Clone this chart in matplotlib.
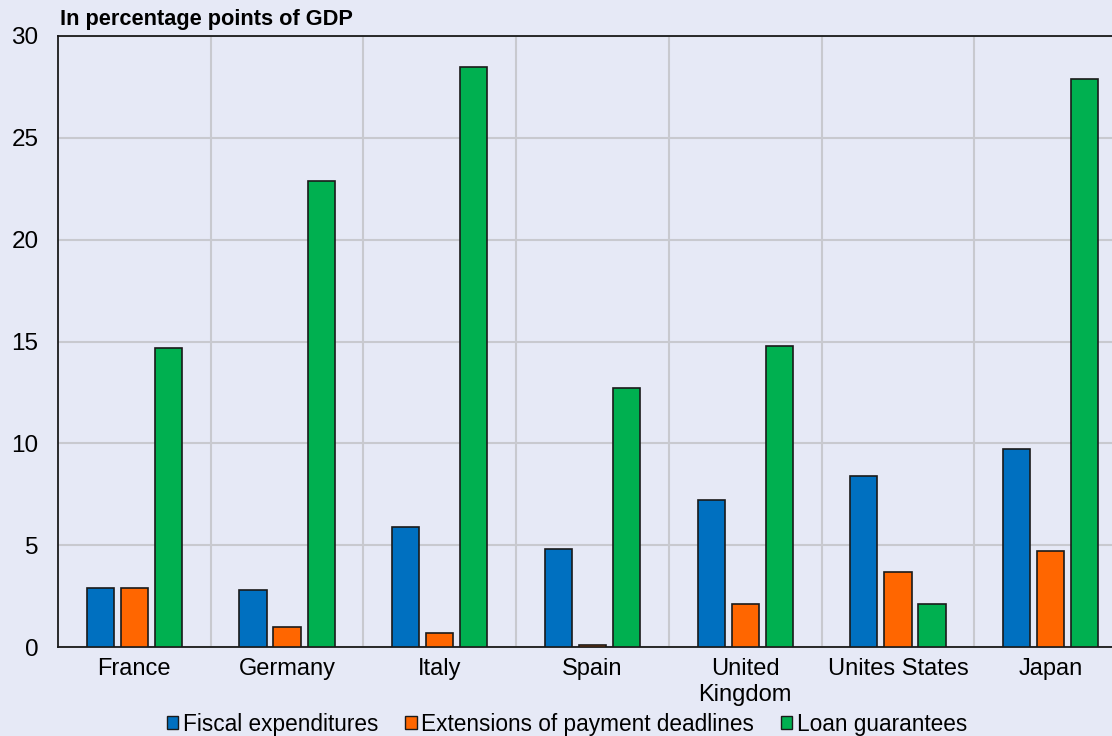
import matplotlib
matplotlib.use("Agg")
import matplotlib.pyplot as plt
import numpy as np
from matplotlib.patches import Patch

plt.rcParams['font.family'] = ['Liberation Sans', 'DejaVu Sans']

countries = ["France", "Germany", "Italy", "Spain", "United\nKingdom", "Unites States", "Japan"]
series_names = ["Fiscal expenditures", "Extensions of payment deadlines", "Loan guarantees"]
fiscal = [2.9, 2.8, 5.9, 4.8, 7.2, 8.4, 9.7]
extensions = [2.9, 1.0, 0.7, 0.1, 2.1, 3.7, 4.7]
guarantees = [14.7, 22.9, 28.5, 12.7, 14.8, 2.1, 27.9]
yticks = [0, 5, 10, 15, 20, 25, 30]

colors = ["#0070C0", "#FF6600", "#00B050"]
bg = "#E6E9F6"
grid_c = "#C8C9CF"

fig = plt.figure(figsize=(11.12, 7.36), dpi=100, facecolor=bg)
ax = fig.add_axes([58 / 1112, 1 - 647 / 736, 1069 / 1112, 611 / 736])
ax.set_facecolor(bg)

x = np.arange(len(countries))
width = 0.178
step = 0.223
for i, (vals, c) in enumerate(zip([fiscal, extensions, guarantees], colors)):
    ax.bar(x + (i - 1) * step, vals, width, color=c, edgecolor="#1a1a1a",
           linewidth=1.2, zorder=3)

ax.set_xlim(-0.5, len(countries) - 0.5)
ax.set_ylim(0, 30)
ax.set_yticks(yticks)
ax.set_yticklabels([str(v) for v in yticks], fontsize=17.5)
ax.set_xticks(x)
ax.set_xticklabels(countries, fontsize=17, linespacing=1.25)
ax.tick_params(axis="y", length=0, pad=14)
ax.tick_params(axis="x", length=0, pad=8)

# vertical separators between countries and horizontal gridlines
for b in np.arange(0.5, len(countries) - 0.5, 1.0):
    ax.axvline(b, color=grid_c, linewidth=1.5, zorder=1)
ax.yaxis.grid(True, color=grid_c, linewidth=1.5, zorder=1)
ax.set_axisbelow(True)

for s in ["left", "bottom", "top"]:
    ax.spines[s].set_color("#1a1a1a")
    ax.spines[s].set_linewidth(1.3)
ax.spines["right"].set_visible(False)

fig.text(60 / 1112, 1 - 20 / 736, "In percentage points of GDP", fontsize=15.7,
         fontweight="bold", va="center", ha="left")

handles = [Patch(facecolor=c, edgecolor="#1a1a1a", linewidth=1.0) for c in colors]
fig.legend(handles, series_names, loc="center", bbox_to_anchor=(567 / 1112, 1 - 724 / 736),
           ncol=3, frameon=False, fontsize=16.3, handlelength=0.5, handleheight=0.5,
           handletextpad=0.2, columnspacing=1.2, borderpad=0)

fig.savefig("out.png", dpi=100, facecolor=bg)
